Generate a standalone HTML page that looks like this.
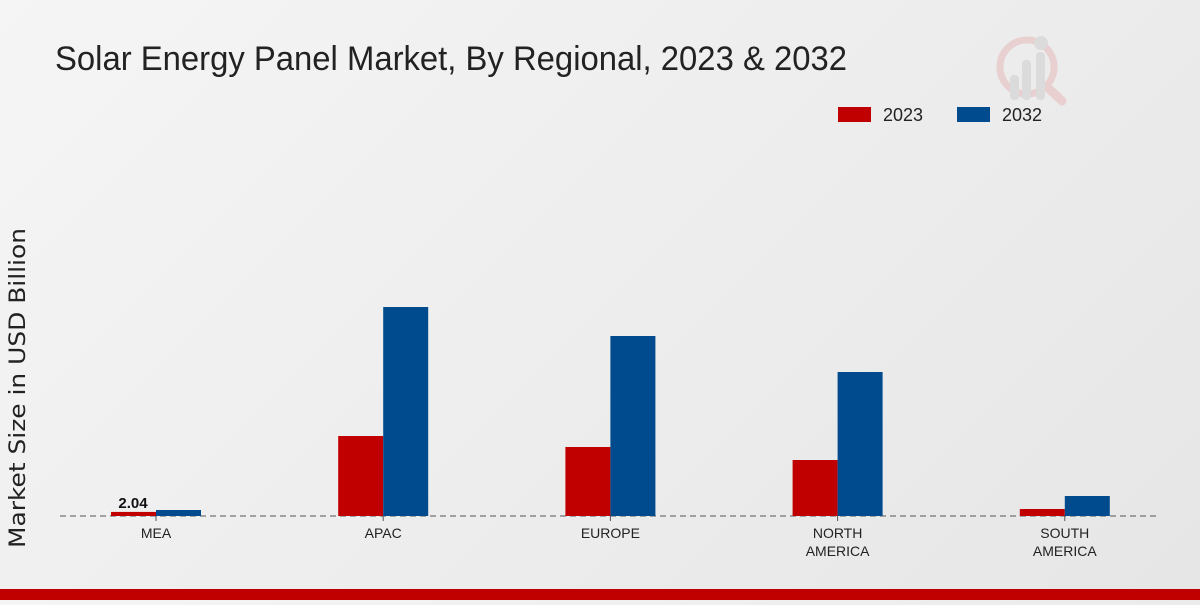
<!DOCTYPE html>
<html><head><meta charset="utf-8"><style>
body{margin:0;width:1200px;height:600px;overflow:hidden;background:linear-gradient(135deg,#f5f5f5,#e6e6e6);font-family:"Liberation Sans",sans-serif;}
</style></head><body>
<svg width="1200" height="600">
<text x="55" y="70" font-size="34" fill="#222" textLength="792" lengthAdjust="spacingAndGlyphs">Solar Energy Panel Market, By Regional, 2023 &amp; 2032</text>
<g opacity="0.5">
<circle cx="1027" cy="67" r="27" fill="none" stroke="#e8b5b5" stroke-width="7"/>
<line x1="1047" y1="87" x2="1062" y2="101" stroke="#e8b5b5" stroke-width="9" stroke-linecap="round"/>
<rect x="1010" y="75" width="9" height="25" rx="4" fill="#ccc"/><rect x="1022" y="60" width="9" height="40" rx="4" fill="#ccc"/><rect x="1036" y="52" width="9" height="48" rx="4" fill="#ccc"/>
<circle cx="1041" cy="43" r="7" fill="#ccc"/></g>
<g>
<rect x="838" y="107" width="33" height="15" fill="#c00000"/>
<text x="883" y="121" font-size="18" fill="#222">2023</text>
<rect x="957" y="107" width="33" height="15" fill="#004b8d"/>
<text x="1002" y="121" font-size="18" fill="#222">2032</text>
</g>
<text transform="translate(25,388) rotate(-90)" text-anchor="middle" font-size="22" fill="#222" textLength="320" lengthAdjust="spacingAndGlyphs" style="font-family:'DejaVu Sans',sans-serif">Market Size in USD Billion</text>
<line x1="60" y1="516" x2="1160" y2="516" stroke="#555" stroke-dasharray="6,4"/>
<g id="bars"></g>
</svg>
<script>
const categories=[["MEA"],["APAC"],["EUROPE"],["NORTH","AMERICA"],["SOUTH","AMERICA"]];
const v2023=[2.04,40,34.5,28,3.5];
const v2032=[3,104.5,90,72,10];
const labels2023=["2.04","","","",""];
const ns="http://www.w3.org/2000/svg",g=document.getElementById("bars");
const base=516,k=2.0,x0=156,step=227.2,bw=45;
const y=v=>base-v*k,xc=i=>x0+i*step;
function mk(t,a){const e=document.createElementNS(ns,t);for(const q in a)e.setAttribute(q,a[q]);g.appendChild(e);return e;}
categories.forEach((c,i)=>{
 let r=mk("rect",{x:xc(i)-bw,y:y(v2023[i]),width:bw,height:v2023[i]*k,fill:"#c00000"});
 
 
 r=mk("rect",{x:xc(i),y:y(v2032[i]),width:bw,height:v2032[i]*k,fill:"#004b8d"});
 
 
 mk("line",{x1:xc(i),x2:xc(i),y1:516,y2:521,stroke:"#555"});
 c.forEach((s,j)=>{const t=mk("text",{x:xc(i),y:538+j*18,"text-anchor":"middle","font-size":14,fill:"#222"});t.textContent=s;
 
 });
 if(labels2023[i]){const t=mk("text",{x:xc(i)-23,y:y(v2023[i])-4,"text-anchor":"middle","font-size":15,"font-weight":"bold",fill:"#111"});t.textContent=labels2023[i];
 
 }
});
</script>
<div style="position:absolute;left:0;top:589px;width:1200px;height:11px;background:#c00000"></div>
</body></html>
